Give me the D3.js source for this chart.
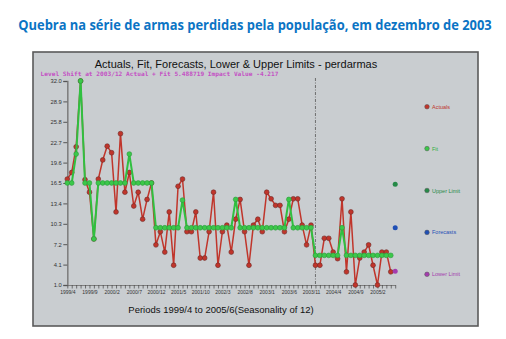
<!DOCTYPE html>
<html>
<head>
<meta charset="utf-8">
<script src="https://cdn.jsdelivr.net/npm/d3@7"></script>
<style>
  html, body { margin: 0; padding: 0; background: #fff; }
  svg { display: block; }
</style>
</head>
<body>
<div id="chart"></div>
<script>
// values
var actuals = [
  17.1, 18.1, 22.0, 32.0, 17.0, 15.1, 8.0, 17.1, 20.0, 22.1,
  21.1, 12.1, 24.0, 15.1, 18.1, 13.0, 15.1, 11.0, 14.0, 16.5,
  7.1, 9.1, 6.0, 12.1, 4.0, 16.0, 17.1, 9.1, 9.1, 12.1,
  5.1, 5.1, 9.1, 15.1, 4.0, 9.1, 10.1, 6.0, 11.0, 14.0,
  9.1, 4.0, 10.1, 11.0, 9.1, 15.1, 14.1, 13.1, 13.1, 9.1,
  11.0, 14.1, 14.1, 10.1, 7.1, 10.1, 4.0, 4.0, 8.1, 8.1,
  6.0, 5.0, 14.1, 3.0, 12.1, 1.0, 5.1, 6.0, 7.1, 4.0,
  1.0, 6.0, 6.0, 3.0
];
var fit = [
  16.5, 16.5, 20.9, 32.0, 16.5, 16.5, 8.0, 16.5, 16.5, 16.5,
  16.5, 16.5, 16.5, 16.5, 20.9, 16.5, 16.5, 16.5, 16.5, 16.5,
  9.7, 9.7, 9.7, 9.7, 9.7, 9.7, 13.9, 9.7, 9.7, 9.7,
  9.7, 9.7, 9.7, 9.7, 9.7, 9.7, 9.7, 9.7, 14.0, 9.7,
  9.7, 9.7, 9.7, 9.7, 9.7, 9.7, 9.7, 9.7, 9.7, 9.7,
  14.0, 9.7, 9.7, 9.7, 9.7, 9.7, 5.5, 5.5, 5.5, 5.5,
  5.5, 5.5, 9.7, 5.5, 5.5, 5.5, 5.5, 5.5, 5.5, 5.5,
  5.5, 5.5, 5.5, 5.5
];
var upperLimit = [16.3];
var forecasts = [9.7];
var lowerLimit = [3.1];
var yTicks = [1.0, 4.1, 7.2, 10.3, 13.4, 16.5, 19.6, 22.7, 25.8, 28.9, 32.0];
var startYear = 1999, startMonth = 4, nPeriods = 75;
var shiftPeriod = "2003/12";

var legendItems = [
  { label: "Actuals", color: "#c0352b", text: "#c0352b" },
  { label: "Fit", color: "#3cc84a", text: "#30b040" },
  { label: "Upper Limit", color: "#268a48", text: "#268a48" },
  { label: "Forecasts", color: "#1f4fb5", text: "#1f4fb5" },
  { label: "Lower Limit", color: "#a43cae", text: "#a43cae" }
];

// period labels 1999/4 ... 2005/6
var periods = [];
for (var k = 0; k < nPeriods; k++) {
  var m = startMonth - 1 + k;
  periods.push((startYear + Math.floor(m / 12)) + "/" + (m % 12 + 1));
}

var width = 506, height = 339;
var svg = d3.select("#chart").append("svg")
  .attr("width", width)
  .attr("height", height);

// page title, squeezed horizontally to look like the condensed original
var title = svg.append("g");
var titleText = title.append("text")
  .attr("x", 0).attr("y", 0)
  .attr("text-anchor", "middle")
  .attr("font-family", "Open Sans, sans-serif")
  .attr("font-weight", 700)
  .attr("font-size", 15)
  .attr("fill", "#0b74c4")
  .text("Quebra na série de armas perdidas pela população, em dezembro de 2003");
var tw = titleText.node().getComputedTextLength();
title.attr("transform", "translate(255,29.5) scale(" + (474 / tw) + ",1)");

// grey panel
svg.append("rect")
  .attr("x", 33).attr("y", 52)
  .attr("width", 445).attr("height", 274)
  .attr("fill", "#c9cdd0")
  .attr("stroke", "#5a5a5a")
  .attr("stroke-width", 1.6);

svg.append("text")
  .attr("x", 236).attr("y", 67.5)
  .attr("text-anchor", "middle")
  .attr("font-family", "Liberation Sans, Arial, sans-serif")
  .attr("font-size", 11)
  .attr("fill", "#111")
  .text("Actuals, Fit, Forecasts, Lower & Upper Limits - perdarmas");

svg.append("text")
  .attr("x", 40.5).attr("y", 75.5)
  .attr("textLength", 238)
  .attr("lengthAdjust", "spacingAndGlyphs")
  .attr("font-family", "DejaVu Sans Mono, monospace")
  .attr("font-weight", 700)
  .attr("font-size", 6)
  .attr("fill", "#c450c4")
  .text("Level Shift at 2003/12 Actual + Fit 5.488719 Impact Value -4.217");

var x = d3.scaleLinear().domain([0, nPeriods - 1]).range([67.3, 395.2]);
var y = d3.scaleLinear().domain([1, 32]).range([285, 81]);

// y axis
var yAxis = svg.append("g")
  .attr("transform", "translate(" + x(0) + ",0)")
  .call(d3.axisLeft(y).tickValues(yTicks).tickFormat(d3.format(".1f")).tickSize(4).tickPadding(1.5));
yAxis.select(".domain").attr("stroke", "#808080").attr("stroke-width", 1.6);
yAxis.selectAll(".tick line").attr("stroke", "#555");
yAxis.selectAll(".tick text")
  .attr("font-family", "Liberation Sans, Arial, sans-serif")
  .attr("font-size", 5.8)
  .attr("fill", "#333");

// x axis
var xAxis = svg.append("g")
  .attr("transform", "translate(0," + y(1) + ")")
  .call(d3.axisBottom(x)
    .tickValues(d3.range(nPeriods))
    .tickFormat(function(i) { return i % 5 === 0 ? periods[i] : ""; })
    .tickSize(3.5).tickSizeOuter(0).tickPadding(1.5));
xAxis.select(".domain").attr("stroke", "#808080").attr("stroke-width", 1.2);
xAxis.selectAll(".tick line").attr("stroke", "#444").attr("stroke-width", 0.7);
xAxis.selectAll(".tick text")
  .attr("font-family", "Liberation Sans, Arial, sans-serif")
  .attr("font-size", 5)
  .attr("fill", "#333");

svg.append("text")
  .attr("x", 221).attr("y", 313)
  .attr("text-anchor", "middle")
  .attr("font-family", "Liberation Sans, Arial, sans-serif")
  .attr("font-size", 9.5)
  .attr("fill", "#111")
  .text("Periods 1999/4 to 2005/6(Seasonality of 12)");

// level shift marker
var shiftIdx = periods.indexOf(shiftPeriod);
svg.append("line")
  .attr("x1", x(shiftIdx)).attr("x2", x(shiftIdx))
  .attr("y1", y(32) - 3).attr("y2", y(1))
  .attr("stroke", "#555")
  .attr("stroke-width", 0.8)
  .attr("stroke-dasharray", "3,1.5,1,1.5");

var line = d3.line()
  .x(function(d, i) { return x(i); })
  .y(function(d) { return y(d); });

// actuals
svg.append("path")
  .datum(actuals)
  .attr("d", line)
  .attr("fill", "none")
  .attr("stroke", "#c0352b")
  .attr("stroke-width", 1.5);
svg.append("g").selectAll("circle").data(actuals).enter().append("circle")
  .attr("cx", function(d, i) { return x(i); })
  .attr("cy", function(d) { return y(d); })
  .attr("r", 2.4)
  .attr("fill", "#c0352b")
  .attr("stroke", "#6e2a26")
  .attr("stroke-width", 0.6);

// fit
svg.append("path")
  .datum(fit)
  .attr("d", line)
  .attr("fill", "none")
  .attr("stroke", "#30c040")
  .attr("stroke-width", 2);
svg.append("g").selectAll("circle").data(fit).enter().append("circle")
  .attr("cx", function(d, i) { return x(i); })
  .attr("cy", function(d) { return y(d); })
  .attr("r", 2.4)
  .attr("fill", "#3cc84a")
  .attr("stroke", "#2a9a3a")
  .attr("stroke-width", 0.6);

// forecast period points
var lastIdx = nPeriods - 1;
var fcSets = [
  { values: upperLimit, color: "#268a48" },
  { values: forecasts, color: "#1f4fb5" },
  { values: lowerLimit, color: "#a43cae" }
];
fcSets.forEach(function(s) {
  svg.append("g").selectAll("circle").data(s.values).enter().append("circle")
    .attr("cx", function(d, i) { return x(lastIdx + i); })
    .attr("cy", function(d) { return y(d); })
    .attr("r", 2.5)
    .attr("fill", s.color);
});

// legend
var legend = svg.append("g").selectAll("g").data(legendItems).enter().append("g")
  .attr("transform", function(d, i) { return "translate(427," + (106.7 + i * 41.9) + ")"; });
legend.append("circle")
  .attr("r", 2.3)
  .attr("fill", function(d) { return d.color; })
  .attr("stroke", "#555")
  .attr("stroke-width", 0.5);
legend.append("text")
  .attr("x", 5).attr("y", 2)
  .attr("font-family", "Liberation Sans, Arial, sans-serif")
  .attr("font-size", 5.5)
  .attr("fill", function(d) { return d.text; })
  .text(function(d) { return d.label; });
</script>
</body>
</html>
